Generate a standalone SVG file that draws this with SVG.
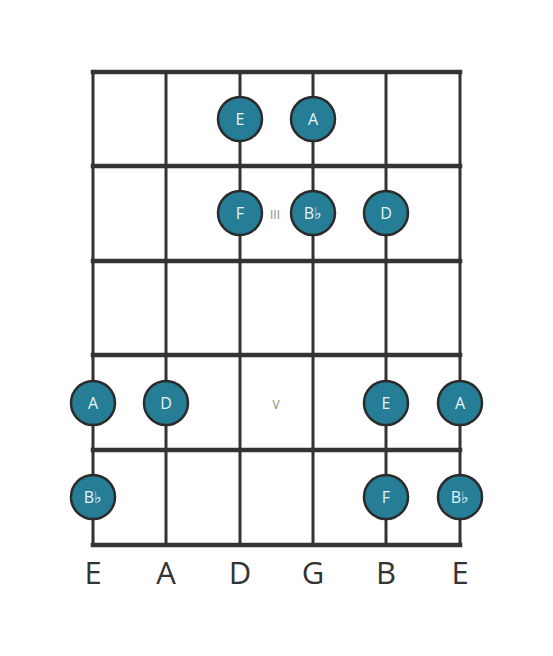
<svg xmlns="http://www.w3.org/2000/svg" width="553" height="656" viewBox="0 0 553 656">
<style>
.fret{stroke:#333;stroke-width:4.5;stroke-linecap:square}
.str{stroke:#333;stroke-width:3}
.dot circle{fill:#267d96;stroke:#2b2b2b;stroke-width:2.5}
.dot text{fill:#e8f4f8;font-family:"Open Sans","Liberation Sans",sans-serif;font-size:16px;text-anchor:middle;dominant-baseline:central}
.mk{fill:#888;font-family:"Open Sans","Liberation Sans",sans-serif;font-size:12px;text-anchor:middle;dominant-baseline:central}
.sn{fill:#333;font-family:"Open Sans","Liberation Sans",sans-serif;font-size:31px;text-anchor:middle}
</style>
<rect width="553" height="656" fill="#fff"/>
<g id="strings">
<line class="str" x1="93" y1="72" x2="93" y2="545"/>
<line class="str" x1="166" y1="72" x2="166" y2="545"/>
<line class="str" x1="240" y1="72" x2="240" y2="545"/>
<line class="str" x1="313" y1="72" x2="313" y2="545"/>
<line class="str" x1="386" y1="72" x2="386" y2="545"/>
<line class="str" x1="460" y1="72" x2="460" y2="545"/>
</g>
<g id="frets">
<line class="fret" x1="93" y1="72" x2="460" y2="72"/>
<line class="fret" x1="93" y1="166" x2="460" y2="166"/>
<line class="fret" x1="93" y1="261" x2="460" y2="261"/>
<line class="fret" x1="93" y1="355" x2="460" y2="355"/>
<line class="fret" x1="93" y1="450" x2="460" y2="450"/>
<line class="fret" x1="93" y1="545" x2="460" y2="545"/>
</g>
<g id="markers">
<text class="mk" x="275" y="214">III</text>
<text class="mk" x="276" y="404">V</text>
</g>
<g id="n1" class="dot"><circle cx="240" cy="119" r="22"/><text x="240" y="119">E</text></g>
<g id="n2" class="dot"><circle cx="313" cy="119" r="22"/><text x="313" y="119">A</text></g>
<g id="n3" class="dot"><circle cx="240" cy="213" r="22"/><text x="240" y="213">F</text></g>
<g id="n4" class="dot"><circle cx="313" cy="213" r="22"/><text x="313" y="213">B♭</text></g>
<g id="n5" class="dot"><circle cx="386" cy="213" r="22"/><text x="386" y="213">D</text></g>
<g id="n6" class="dot"><circle cx="93" cy="403" r="22"/><text x="93" y="403">A</text></g>
<g id="n7" class="dot"><circle cx="166" cy="403" r="22"/><text x="166" y="403">D</text></g>
<g id="n8" class="dot"><circle cx="386" cy="403" r="22"/><text x="386" y="403">E</text></g>
<g id="n9" class="dot"><circle cx="460" cy="403" r="22"/><text x="460" y="403">A</text></g>
<g id="n10" class="dot"><circle cx="93" cy="497" r="22"/><text x="93" y="497">B♭</text></g>
<g id="n11" class="dot"><circle cx="386" cy="497" r="22"/><text x="386" y="497">F</text></g>
<g id="n12" class="dot"><circle cx="460" cy="497" r="22"/><text x="460" y="497">B♭</text></g>
<g id="string-names">
<text class="sn" x="93" y="584">E</text>
<text class="sn" x="166" y="584">A</text>
<text class="sn" x="240" y="584">D</text>
<text class="sn" x="313" y="584">G</text>
<text class="sn" x="386" y="584">B</text>
<text class="sn" x="460" y="584">E</text>
</g>
</svg>
